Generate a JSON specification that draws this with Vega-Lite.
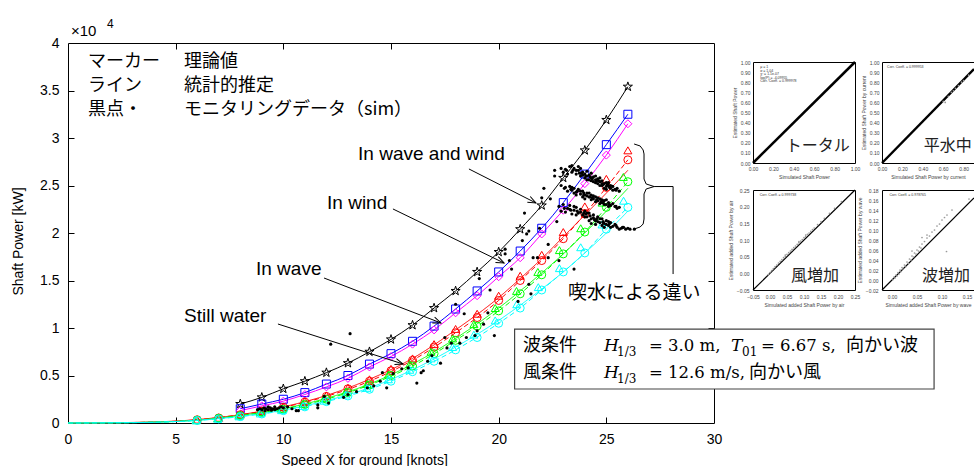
{
"$schema":"https://vega.github.io/schema/vega-lite/v6.json",
"background":"white",
"padding":{"left":10,"top":17,"right":0,"bottom":0},
"bounds":"flush",
"spacing":39,
"config":{
 "view":{"stroke":"#000","strokeWidth":1},
 "font":"Liberation Sans",
 "axis":{"labelFont":"Liberation Sans","titleFont":"Liberation Sans","labelColor":"#000","titleColor":"#000","tickColor":"#000","tickWidth":1,"labelFlush":false,"grid":false,"domain":false}
},
"datasets":{
 "mk":[
  {"s":"s1","x":8,"y":0.20},{"s":"s1","x":9,"y":0.27},{"s":"s1","x":10,"y":0.36},{"s":"s1","x":11,"y":0.44},{"s":"s1","x":12,"y":0.53},{"s":"s1","x":13,"y":0.63},{"s":"s1","x":14,"y":0.75},{"s":"s1","x":15,"y":0.88},{"s":"s1","x":16,"y":1.03},{"s":"s1","x":17,"y":1.21},{"s":"s1","x":18,"y":1.39},{"s":"s1","x":19,"y":1.59},{"s":"s1","x":20,"y":1.80},{"s":"s1","x":21,"y":2.04},{"s":"s1","x":22,"y":2.29},{"s":"s1","x":23,"y":2.58},{"s":"s1","x":24,"y":2.87},{"s":"s1","x":25,"y":3.19},{"s":"s1","x":26,"y":3.54},
  {"s":"s2","x":8,"y":0.15},{"s":"s2","x":9,"y":0.20},{"s":"s2","x":10,"y":0.25},{"s":"s2","x":11,"y":0.32},{"s":"s2","x":12,"y":0.41},{"s":"s2","x":13,"y":0.50},{"s":"s2","x":14,"y":0.62},{"s":"s2","x":15,"y":0.73},{"s":"s2","x":16,"y":0.86},{"s":"s2","x":17,"y":1.02},{"s":"s2","x":18,"y":1.20},{"s":"s2","x":19,"y":1.39},{"s":"s2","x":20,"y":1.59},{"s":"s2","x":21,"y":1.81},{"s":"s2","x":22,"y":2.05},{"s":"s2","x":23,"y":2.32},{"s":"s2","x":24,"y":2.62},{"s":"s2","x":25,"y":2.93},{"s":"s2","x":26,"y":3.25},
  {"s":"s3","x":8,"y":0.13},{"s":"s3","x":9,"y":0.18},{"s":"s3","x":10,"y":0.23},{"s":"s3","x":11,"y":0.30},{"s":"s3","x":12,"y":0.38},{"s":"s3","x":13,"y":0.47},{"s":"s3","x":14,"y":0.59},{"s":"s3","x":15,"y":0.70},{"s":"s3","x":16,"y":0.83},{"s":"s3","x":17,"y":0.98},{"s":"s3","x":18,"y":1.16},{"s":"s3","x":19,"y":1.34},{"s":"s3","x":20,"y":1.54},{"s":"s3","x":21,"y":1.74},{"s":"s3","x":22,"y":1.99},{"s":"s3","x":23,"y":2.24},{"s":"s3","x":24,"y":2.52},{"s":"s3","x":25,"y":2.82},{"s":"s3","x":26,"y":3.15},
  {"s":"s4","x":6,"y":0.035},{"s":"s4","x":7,"y":0.055},{"s":"s4","x":8,"y":0.09},{"s":"s4","x":9,"y":0.13},{"s":"s4","x":10,"y":0.17},{"s":"s4","x":11,"y":0.23},{"s":"s4","x":12,"y":0.29},{"s":"s4","x":13,"y":0.37},{"s":"s4","x":14,"y":0.46},{"s":"s4","x":15,"y":0.57},{"s":"s4","x":16,"y":0.68},{"s":"s4","x":17,"y":0.83},{"s":"s4","x":18,"y":0.99},{"s":"s4","x":19,"y":1.15},{"s":"s4","x":20,"y":1.34},{"s":"s4","x":21,"y":1.55},{"s":"s4","x":22,"y":1.77},{"s":"s4","x":23,"y":2.01},{"s":"s4","x":24,"y":2.28},{"s":"s4","x":25,"y":2.57},{"s":"s4","x":26,"y":2.87},
  {"s":"s5","x":6,"y":0.034},{"s":"s5","x":7,"y":0.053},{"s":"s5","x":8,"y":0.087},{"s":"s5","x":9,"y":0.125},{"s":"s5","x":10,"y":0.165},{"s":"s5","x":11,"y":0.22},{"s":"s5","x":12,"y":0.28},{"s":"s5","x":13,"y":0.36},{"s":"s5","x":14,"y":0.44},{"s":"s5","x":15,"y":0.55},{"s":"s5","x":16,"y":0.66},{"s":"s5","x":17,"y":0.80},{"s":"s5","x":18,"y":0.95},{"s":"s5","x":19,"y":1.11},{"s":"s5","x":20,"y":1.29},{"s":"s5","x":21,"y":1.50},{"s":"s5","x":22,"y":1.71},{"s":"s5","x":23,"y":1.94},{"s":"s5","x":24,"y":2.20},{"s":"s5","x":25,"y":2.48},{"s":"s5","x":26,"y":2.77},
  {"s":"s6","x":5.95,"y":0.03},{"s":"s6","x":6.95,"y":0.05},{"s":"s6","x":7.94,"y":0.08},{"s":"s6","x":8.93,"y":0.115},{"s":"s6","x":9.92,"y":0.15},{"s":"s6","x":10.91,"y":0.20},{"s":"s6","x":11.9,"y":0.26},{"s":"s6","x":12.9,"y":0.33},{"s":"s6","x":13.89,"y":0.41},{"s":"s6","x":14.88,"y":0.51},{"s":"s6","x":15.87,"y":0.62},{"s":"s6","x":16.86,"y":0.75},{"s":"s6","x":17.86,"y":0.89},{"s":"s6","x":18.85,"y":1.04},{"s":"s6","x":19.84,"y":1.21},{"s":"s6","x":20.83,"y":1.39},{"s":"s6","x":21.82,"y":1.59},{"s":"s6","x":22.82,"y":1.82},{"s":"s6","x":23.81,"y":2.05},{"s":"s6","x":24.8,"y":2.32},{"s":"s6","x":25.79,"y":2.59},
  {"s":"s7","x":6,"y":0.03},{"s":"s7","x":7,"y":0.05},{"s":"s7","x":8,"y":0.078},{"s":"s7","x":9,"y":0.11},{"s":"s7","x":10,"y":0.145},{"s":"s7","x":11,"y":0.195},{"s":"s7","x":12,"y":0.25},{"s":"s7","x":13,"y":0.32},{"s":"s7","x":14,"y":0.40},{"s":"s7","x":15,"y":0.50},{"s":"s7","x":16,"y":0.60},{"s":"s7","x":17,"y":0.73},{"s":"s7","x":18,"y":0.87},{"s":"s7","x":19,"y":1.02},{"s":"s7","x":20,"y":1.18},{"s":"s7","x":21,"y":1.36},{"s":"s7","x":22,"y":1.56},{"s":"s7","x":23,"y":1.78},{"s":"s7","x":24,"y":2.01},{"s":"s7","x":25,"y":2.27},{"s":"s7","x":26,"y":2.54},
  {"s":"s8","x":5.95,"y":0.028},{"s":"s8","x":6.95,"y":0.045},{"s":"s8","x":7.94,"y":0.07},{"s":"s8","x":8.93,"y":0.10},{"s":"s8","x":9.92,"y":0.135},{"s":"s8","x":10.91,"y":0.18},{"s":"s8","x":11.9,"y":0.235},{"s":"s8","x":12.9,"y":0.30},{"s":"s8","x":13.89,"y":0.37},{"s":"s8","x":14.88,"y":0.46},{"s":"s8","x":15.87,"y":0.56},{"s":"s8","x":16.86,"y":0.68},{"s":"s8","x":17.86,"y":0.80},{"s":"s8","x":18.85,"y":0.93},{"s":"s8","x":19.84,"y":1.08},{"s":"s8","x":20.84,"y":1.25},{"s":"s8","x":21.84,"y":1.43},{"s":"s8","x":22.82,"y":1.63},{"s":"s8","x":23.81,"y":1.85},{"s":"s8","x":24.8,"y":2.09},{"s":"s8","x":25.8,"y":2.34},
  {"s":"s9","x":6,"y":0.027},{"s":"s9","x":7,"y":0.043},{"s":"s9","x":8,"y":0.067},{"s":"s9","x":9,"y":0.095},{"s":"s9","x":10,"y":0.13},{"s":"s9","x":11,"y":0.17},{"s":"s9","x":12,"y":0.225},{"s":"s9","x":13,"y":0.285},{"s":"s9","x":14,"y":0.355},{"s":"s9","x":15,"y":0.44},{"s":"s9","x":16,"y":0.54},{"s":"s9","x":17,"y":0.65},{"s":"s9","x":18,"y":0.77},{"s":"s9","x":19,"y":0.90},{"s":"s9","x":20,"y":1.05},{"s":"s9","x":21,"y":1.21},{"s":"s9","x":22,"y":1.40},{"s":"s9","x":23,"y":1.59},{"s":"s9","x":24,"y":1.79},{"s":"s9","x":25,"y":2.04},{"s":"s9","x":26,"y":2.27}
 ],
 "ln":[
  {"s":"s4","x":0,"y":0},{"s":"s4","x":3,"y":0.006},{"s":"s4","x":6,"y":0.036},{"s":"s4","x":8,"y":0.088},{"s":"s4","x":10,"y":0.17},{"s":"s4","x":12,"y":0.29},{"s":"s4","x":14,"y":0.46},{"s":"s4","x":16,"y":0.68},{"s":"s4","x":18,"y":0.98},{"s":"s4","x":20,"y":1.32},{"s":"s4","x":21,"y":1.52},{"s":"s4","x":22,"y":1.73},{"s":"s4","x":23,"y":1.96},{"s":"s4","x":24,"y":2.19},{"s":"s4","x":25,"y":2.42},{"s":"s4","x":26,"y":2.66},
  {"s":"s5","x":0,"y":0},{"s":"s5","x":3,"y":0.005},{"s":"s5","x":6,"y":0.034},{"s":"s5","x":8,"y":0.087},{"s":"s5","x":10,"y":0.165},{"s":"s5","x":12,"y":0.28},{"s":"s5","x":14,"y":0.44},{"s":"s5","x":16,"y":0.66},{"s":"s5","x":18,"y":0.95},{"s":"s5","x":20,"y":1.29},{"s":"s5","x":21,"y":1.50},{"s":"s5","x":22,"y":1.71},{"s":"s5","x":23,"y":1.94},{"s":"s5","x":24,"y":2.20},{"s":"s5","x":25,"y":2.48},{"s":"s5","x":26,"y":2.77},
  {"s":"s6","x":0,"y":0},{"s":"s6","x":3,"y":0.005},{"s":"s6","x":6,"y":0.03},{"s":"s6","x":8,"y":0.08},{"s":"s6","x":10,"y":0.15},{"s":"s6","x":12,"y":0.26},{"s":"s6","x":14,"y":0.41},{"s":"s6","x":16,"y":0.62},{"s":"s6","x":18,"y":0.89},{"s":"s6","x":20,"y":1.21},{"s":"s6","x":21,"y":1.39},{"s":"s6","x":22,"y":1.58},{"s":"s6","x":23,"y":1.78},{"s":"s6","x":24,"y":2.00},{"s":"s6","x":25,"y":2.23},{"s":"s6","x":26,"y":2.47},
  {"s":"s7","x":0,"y":0},{"s":"s7","x":3,"y":0.004},{"s":"s7","x":6,"y":0.03},{"s":"s7","x":8,"y":0.078},{"s":"s7","x":10,"y":0.145},{"s":"s7","x":12,"y":0.25},{"s":"s7","x":14,"y":0.40},{"s":"s7","x":16,"y":0.60},{"s":"s7","x":18,"y":0.87},{"s":"s7","x":20,"y":1.18},{"s":"s7","x":21,"y":1.36},{"s":"s7","x":22,"y":1.56},{"s":"s7","x":23,"y":1.78},{"s":"s7","x":24,"y":2.01},{"s":"s7","x":25,"y":2.27},{"s":"s7","x":26,"y":2.54},
  {"s":"s8","x":0,"y":0},{"s":"s8","x":3,"y":0.004},{"s":"s8","x":6,"y":0.028},{"s":"s8","x":8,"y":0.07},{"s":"s8","x":10,"y":0.135},{"s":"s8","x":12,"y":0.235},{"s":"s8","x":14,"y":0.37},{"s":"s8","x":16,"y":0.56},{"s":"s8","x":18,"y":0.80},{"s":"s8","x":20,"y":1.08},{"s":"s8","x":21,"y":1.24},{"s":"s8","x":22,"y":1.41},{"s":"s8","x":23,"y":1.59},{"s":"s8","x":24,"y":1.79},{"s":"s8","x":25,"y":2.00},{"s":"s8","x":26,"y":2.23},
  {"s":"s9","x":0,"y":0},{"s":"s9","x":3,"y":0.004},{"s":"s9","x":6,"y":0.027},{"s":"s9","x":8,"y":0.067},{"s":"s9","x":10,"y":0.13},{"s":"s9","x":12,"y":0.225},{"s":"s9","x":14,"y":0.355},{"s":"s9","x":16,"y":0.54},{"s":"s9","x":18,"y":0.77},{"s":"s9","x":20,"y":1.05},{"s":"s9","x":21,"y":1.21},{"s":"s9","x":22,"y":1.40},{"s":"s9","x":23,"y":1.59},{"s":"s9","x":24,"y":1.79},{"s":"s9","x":25,"y":2.04},{"s":"s9","x":26,"y":2.27}
 ],
 "dots":[
  {"x":22.6,"y":2.66},{"x":22.9,"y":2.68},{"x":23.1,"y":2.67},{"x":23.2,"y":2.62},{"x":23.3,"y":2.70},{"x":23.4,"y":2.64},{"x":23.5,"y":2.68},{"x":23.6,"y":2.62},{"x":23.7,"y":2.66},{"x":23.7,"y":2.70},{"x":23.8,"y":2.60},{"x":23.9,"y":2.64},{"x":24.0,"y":2.58},{"x":24.0,"y":2.62},{"x":24.1,"y":2.60},{"x":24.2,"y":2.56},{"x":24.2,"y":2.61},{"x":24.3,"y":2.58},{"x":24.3,"y":2.63},{"x":24.4,"y":2.54},{"x":24.4,"y":2.59},{"x":24.5,"y":2.56},{"x":24.6,"y":2.52},{"x":24.6,"y":2.57},{"x":24.7,"y":2.54},{"x":24.8,"y":2.50},{"x":24.8,"y":2.55},{"x":24.9,"y":2.52},{"x":24.9,"y":2.47},{"x":25.0,"y":2.49},{"x":25.0,"y":2.53},{"x":25.1,"y":2.50},{"x":25.2,"y":2.47},{"x":25.3,"y":2.49},{"x":25.4,"y":2.46},{"x":25.6,"y":2.44},
  {"x":23.0,"y":2.64},{"x":23.4,"y":2.71},{"x":23.6,"y":2.66},{"x":23.8,"y":2.68},{"x":23.9,"y":2.61},{"x":24.1,"y":2.65},{"x":24.1,"y":2.56},{"x":24.3,"y":2.55},{"x":24.5,"y":2.60},{"x":24.5,"y":2.53},{"x":24.7,"y":2.58},{"x":24.7,"y":2.50},{"x":24.8,"y":2.52},{"x":25.0,"y":2.46},{"x":25.1,"y":2.53},{"x":25.2,"y":2.50},{"x":25.3,"y":2.45},{"x":25.5,"y":2.47},{"x":23.85,"y":2.63},{"x":24.25,"y":2.59},{"x":24.65,"y":2.55},{"x":25.05,"y":2.51},
  {"x":23.15,"y":2.66},{"x":23.45,"y":2.66},{"x":23.75,"y":2.63},{"x":24.05,"y":2.60},{"x":24.35,"y":2.57},{"x":24.55,"y":2.55},{"x":24.85,"y":2.51},{"x":25.15,"y":2.48},{"x":25.45,"y":2.45},
  {"x":22.9,"y":2.50},{"x":23.1,"y":2.48},{"x":23.3,"y":2.49},{"x":23.4,"y":2.45},{"x":23.5,"y":2.47},{"x":23.5,"y":2.42},{"x":23.6,"y":2.43},{"x":23.7,"y":2.46},{"x":23.8,"y":2.41},{"x":23.9,"y":2.44},{"x":24.0,"y":2.40},{"x":24.0,"y":2.36},{"x":24.1,"y":2.42},{"x":24.2,"y":2.38},{"x":24.3,"y":2.40},{"x":24.4,"y":2.36},{"x":24.5,"y":2.38},{"x":24.5,"y":2.33},{"x":24.6,"y":2.34},{"x":24.7,"y":2.36},{"x":24.8,"y":2.32},{"x":24.9,"y":2.34},{"x":25.0,"y":2.30},{"x":25.0,"y":2.35},{"x":25.1,"y":2.32},{"x":25.2,"y":2.29},{"x":25.4,"y":2.28},{"x":25.6,"y":2.27},
  {"x":23.2,"y":2.44},{"x":23.4,"y":2.48},{"x":23.6,"y":2.40},{"x":23.8,"y":2.44},{"x":23.9,"y":2.38},{"x":24.1,"y":2.39},{"x":24.2,"y":2.42},{"x":24.3,"y":2.35},{"x":24.4,"y":2.39},{"x":24.6,"y":2.37},{"x":24.7,"y":2.31},{"x":24.8,"y":2.35},{"x":24.9,"y":2.30},{"x":25.1,"y":2.28},{"x":25.3,"y":2.31},{"x":25.5,"y":2.26},{"x":23.95,"y":2.42},{"x":24.35,"y":2.37},{"x":24.75,"y":2.33},
  {"x":23.05,"y":2.47},{"x":23.35,"y":2.46},{"x":23.65,"y":2.44},{"x":23.95,"y":2.40},{"x":24.25,"y":2.38},{"x":24.55,"y":2.35},{"x":24.85,"y":2.32},{"x":25.15,"y":2.30},{"x":25.45,"y":2.28},
  {"x":22.8,"y":2.28},{"x":23.0,"y":2.30},{"x":23.2,"y":2.26},{"x":23.3,"y":2.29},{"x":23.4,"y":2.20},{"x":23.5,"y":2.24},{"x":23.6,"y":2.27},{"x":23.7,"y":2.21},{"x":23.8,"y":2.25},{"x":23.9,"y":2.19},{"x":24.0,"y":2.23},{"x":24.1,"y":2.17},{"x":24.2,"y":2.21},{"x":24.3,"y":2.15},{"x":24.3,"y":2.10},{"x":24.4,"y":2.19},{"x":24.5,"y":2.13},{"x":24.6,"y":2.17},{"x":24.7,"y":2.11},{"x":24.8,"y":2.15},{"x":24.9,"y":2.10},{"x":24.9,"y":2.06},{"x":25.0,"y":2.13},{"x":25.1,"y":2.08},{"x":25.2,"y":2.11},{"x":25.3,"y":2.07},{"x":25.5,"y":2.06},{"x":25.7,"y":2.05},{"x":25.9,"y":2.04},{"x":26.1,"y":2.04},{"x":26.3,"y":2.04},
  {"x":23.1,"y":2.22},{"x":23.3,"y":2.25},{"x":23.5,"y":2.28},{"x":23.6,"y":2.19},{"x":23.8,"y":2.22},{"x":24.0,"y":2.17},{"x":24.1,"y":2.21},{"x":24.2,"y":2.13},{"x":24.4,"y":2.16},{"x":24.5,"y":2.09},{"x":24.6,"y":2.12},{"x":24.7,"y":2.15},{"x":24.8,"y":2.08},{"x":25.0,"y":2.09},{"x":25.1,"y":2.12},{"x":25.2,"y":2.06},{"x":25.4,"y":2.09},{"x":25.6,"y":2.04},{"x":25.8,"y":2.06},{"x":24.05,"y":2.20},{"x":24.45,"y":2.14},{"x":24.85,"y":2.11},
  {"x":23.05,"y":2.26},{"x":23.35,"y":2.24},{"x":23.65,"y":2.23},{"x":23.95,"y":2.21},{"x":24.25,"y":2.18},{"x":24.55,"y":2.15},{"x":24.85,"y":2.12},{"x":25.15,"y":2.10},{"x":25.45,"y":2.08},{"x":25.75,"y":2.06},{"x":26.0,"y":2.05},
  {"x":22.6,"y":2.60},{"x":22.1,"y":2.47},{"x":21.2,"y":2.21},{"x":21.4,"y":2.02},{"x":21.3,"y":1.99},{"x":21.1,"y":1.92},{"x":21.6,"y":1.74},{"x":20.3,"y":1.83},{"x":20.5,"y":1.71},{"x":22.3,"y":1.74},{"x":22.8,"y":1.71},{"x":23.5,"y":1.62},{"x":21.5,"y":1.36},{"x":21.8,"y":1.74},{"x":22.3,"y":1.88},{"x":22.0,"y":2.37},{"x":22.4,"y":2.36},{"x":22.9,"y":2.23},{"x":22.7,"y":2.12},{"x":21.4,"y":1.46},{"x":20.9,"y":1.28},{"x":18.0,"y":1.25},{"x":19.1,"y":1.52},{"x":20.3,"y":1.78},{"x":18.4,"y":1.15},{"x":19.3,"y":1.04},{"x":19.5,"y":1.16},{"x":19.0,"y":0.97},{"x":18.5,"y":0.90},{"x":18.2,"y":0.84},{"x":16.9,"y":0.71},{"x":17.3,"y":0.63},{"x":16.5,"y":0.55},{"x":14.6,"y":0.53},{"x":15.1,"y":0.52},{"x":15.8,"y":0.58},{"x":14.2,"y":0.39},{"x":13.9,"y":0.37},{"x":16.2,"y":0.42},{"x":17.6,"y":0.79},{"x":17.8,"y":0.84},{"x":18.9,"y":0.92},{"x":13.1,"y":0.94},{"x":12.2,"y":0.83},{"x":19.8,"y":0.92},{"x":17.5,"y":0.90},{"x":16.7,"y":0.65},{"x":16.4,"y":0.53},{"x":14.8,"y":0.37},{"x":14.5,"y":0.44},{"x":15.5,"y":0.57},{"x":10.7,"y":0.13},{"x":11.6,"y":0.16},{"x":11.6,"y":0.19},{"x":12.1,"y":0.21},{"x":11.9,"y":0.28},{"x":10.6,"y":0.13},{"x":12.8,"y":0.27},{"x":13.4,"y":0.33},{"x":13.0,"y":0.30},{"x":20.6,"y":1.62},{"x":19.6,"y":1.40},{"x":21.9,"y":2.05},
  {"x":8.8,"y":0.14},{"x":8.9,"y":0.15},{"x":9.0,"y":0.14},{"x":9.1,"y":0.16},{"x":9.2,"y":0.15},{"x":9.3,"y":0.14},{"x":9.3,"y":0.17},{"x":9.4,"y":0.16},{"x":9.5,"y":0.15},{"x":9.6,"y":0.17},{"x":9.6,"y":0.14},{"x":9.7,"y":0.15},{"x":9.8,"y":0.16},{"x":9.9,"y":0.17},{"x":10.0,"y":0.16},{"x":10.2,"y":0.17},{"x":10.4,"y":0.15},{"x":9.45,"y":0.135},{"x":9.15,"y":0.13}
 ],
 "arrows":[
  {"x":18.62,"y":2.674,"x2":21.73,"y2":2.316},
  {"x":15.09,"y":2.253,"x2":20.25,"y2":1.684},
  {"x":11.89,"y":1.526,"x2":17.32,"y2":1.053},
  {"x":9.75,"y":1.042,"x2":15.56,"y2":0.621}
 ]
},
"hconcat":[
 {
  "width":646,"height":380,
  "encoding":{
   "x":{"field":"x","type":"quantitative","scale":{"domain":[0,30],"nice":false,"zero":false},"axis":null},
   "y":{"field":"y","type":"quantitative","scale":{"domain":[0,4],"nice":false,"zero":false},"axis":null}
  },
  "resolve":{"axis":{"x":"independent","y":"independent"}},
  "layer":[
   {"data":{"name":"mk"},"transform":[{"filter":{"field":"s","oneOf":["s1","s2","s3"]}}],
    "mark":{"type":"line","strokeWidth":1,"interpolate":"monotone"},
    "encoding":{
     "x":{"field":"x","type":"quantitative","scale":{"domain":[0,30],"nice":false,"zero":false},"axis":{"orient":"top","values":[5,10,15,20,25],"labels":false,"ticks":true,"tickSize":-6,"title":null}},
     "y":{"field":"y","type":"quantitative","scale":{"domain":[0,4],"nice":false,"zero":false},"axis":{"orient":"right","values":[0.5,1,1.5,2,2.5,3,3.5],"labels":false,"ticks":true,"tickSize":-6,"title":null}},
     "color":{"field":"s","type":"nominal","scale":{"domain":["s1","s2","s3","s4","s5","s6","s7","s8","s9"],"range":["#000000","#0000ff","#ff00ff","#ff0000","#ff0000","#00ff00","#00ff00","#00ffff","#00ffff"]},"legend":null}
    }},
   {"data":{"name":"ln"},
    "mark":{"type":"line","strokeWidth":1,"interpolate":"monotone"},
    "encoding":{
     "color":{"field":"s","type":"nominal","scale":{"domain":["s1","s2","s3","s4","s5","s6","s7","s8","s9"],"range":["#000000","#0000ff","#ff00ff","#ff0000","#ff0000","#00ff00","#00ff00","#00ffff","#00ffff"]},"legend":null},
     "strokeDash":{"field":"s","type":"nominal","scale":{"domain":["s1","s2","s3","s4","s5","s6","s7","s8","s9"],"range":[[1,0],[1,0],[1,0],[1,0],[5,3],[1,0],[5,3],[1,0],[5,3]]},"legend":null}
    }},
   {"data":{"name":"mk"},
    "mark":{"type":"point","filled":false,"size":64,"strokeWidth":1,"opacity":1},
    "encoding":{
     "x":{"field":"x","type":"quantitative","scale":{"domain":[0,30],"nice":false,"zero":false},"axis":{"orient":"bottom","values":[5,10,15,20,25],"labels":false,"ticks":true,"tickSize":-6,"title":null}},
     "y":{"field":"y","type":"quantitative","scale":{"domain":[0,4],"nice":false,"zero":false},"axis":{"orient":"left","values":[0.5,1,1.5,2,2.5,3,3.5],"labels":false,"ticks":true,"tickSize":-6,"title":null}},
     "color":{"field":"s","type":"nominal","scale":{"domain":["s1","s2","s3","s4","s5","s6","s7","s8","s9"],"range":["#000000","#0000ff","#ff00ff","#ff0000","#ff0000","#00ff00","#00ff00","#00ffff","#00ffff"]},"legend":null},
     "shape":{"field":"s","type":"nominal","scale":{"domain":["s1","s2","s3","s4","s5","s6","s7","s8","s9"],"range":["M0,-1.2L0.2694,-0.3708L1.141,-0.371L0.436,0.1416L0.705,0.971L0,0.458L-0.705,0.971L-0.436,0.1416L-1.141,-0.371L-0.2694,-0.3708Z","square","diamond","triangle-up","circle","triangle-up","circle","triangle-up","circle"]},"legend":null}
    }},
   {"data":{"name":"dots"},
    "mark":{"type":"point","filled":true,"size":10,"color":"#000","opacity":1,"strokeWidth":0},
    "encoding":{
     "x":{"field":"x","type":"quantitative","scale":{"domain":[0,30],"nice":false,"zero":false},"axis":{"orient":"bottom","values":[0,5,10,15,20,25,30],"format":"~g","ticks":false,"labelPadding":9,"labelFontSize":14,"title":"Speed X for ground  [knots]","titleFontSize":14,"titleFontWeight":"normal","titleX":296,"titleY":37,"titleBaseline":"middle"}},
     "y":{"field":"y","type":"quantitative","scale":{"domain":[0,4],"nice":false,"zero":false},"axis":{"orient":"left","values":[0,0.5,1,1.5,2,2.5,3,3.5,4],"format":"~g","ticks":false,"labelPadding":9,"labelFontSize":14,"title":"Shaft Power  [kW]","titleFontSize":14,"titleFontWeight":"normal","titleX":-50,"titleY":198,"titleAngle":270,"titleBaseline":"middle"}}
    }},
   {"data":{"name":"arrows"},
    "mark":{"type":"rule","color":"#000","strokeWidth":1},
    "encoding":{"x2":{"field":"x2"},"y2":{"field":"y2"}}},
   {"data":{"name":"arrows"},
    "transform":[{"calculate":"atan2((datum.y-datum.y2)*95,(datum.x2-datum.x)*21.533)*180/PI","as":"ang"}],
    "mark":{"type":"point","shape":"M-1,-0.4L0,0L-1,0.4","filled":false,"size":256,"color":"#000","strokeWidth":1,"opacity":1},
    "encoding":{
     "x":{"field":"x2","type":"quantitative","scale":{"domain":[0,30],"nice":false,"zero":false},"axis":null},
     "y":{"field":"y2","type":"quantitative","scale":{"domain":[0,4],"nice":false,"zero":false},"axis":null},
     "angle":{"field":"ang","type":"quantitative","scale":null}
    }},
   {"data":{"values":[
     {"g":"b","o":1,"x":26.29,"y":2.937},{"g":"b","o":2,"x":26.57,"y":2.916},{"g":"b","o":3,"x":26.71,"y":2.874},{"g":"b","o":4,"x":26.75,"y":2.832},{"g":"b","o":5,"x":26.75,"y":2.568},{"g":"b","o":6,"x":26.85,"y":2.516},{"g":"b","o":7,"x":27.22,"y":2.489},{"g":"b","o":8,"x":26.85,"y":2.463},{"g":"b","o":9,"x":26.75,"y":2.411},{"g":"b","o":10,"x":26.75,"y":2.147},{"g":"b","o":11,"x":26.71,"y":2.095},{"g":"b","o":12,"x":26.57,"y":2.063},{"g":"b","o":13,"x":26.29,"y":2.042},
     {"g":"l","o":1,"x":27.22,"y":2.489},{"g":"l","o":2,"x":28.10,"y":2.489},{"g":"l","o":3,"x":28.10,"y":1.568}
    ]},
    "mark":{"type":"line","color":"#000","strokeWidth":1},
    "encoding":{"detail":{"field":"g","type":"nominal"},"order":{"field":"o","type":"quantitative"}}},
   {"data":{"values":[
     {"t":"マーカー","x":0.93,"y":3.8},{"t":"理論値","x":5.39,"y":3.8},
     {"t":"ライン","x":0.93,"y":3.547},{"t":"統計的推定","x":5.39,"y":3.547},
     {"t":"黒点・","x":0.93,"y":3.295},{"t":"モニタリングデータ（sim）","x":5.39,"y":3.295}
    ]},
    "mark":{"type":"text","align":"left","baseline":"middle","font":"Noto Sans CJK JP","fontSize":18,"color":"#000"},
    "encoding":{"text":{"field":"t"}}},
   {"data":{"values":[{"t":"喫水による違い","x":23.22,"y":1.368}]},
    "mark":{"type":"text","align":"left","baseline":"middle","font":"Noto Sans CJK JP","fontSize":19,"color":"#000"},
    "encoding":{"text":{"field":"t"}}},
   {"data":{"values":[
     {"t":"In wave and wind","x":13.47,"y":2.83},{"t":"In wind","x":12.03,"y":2.32},
     {"t":"In wave","x":8.73,"y":1.621},{"t":"Still water","x":5.39,"y":1.126}
    ]},
    "mark":{"type":"text","align":"left","baseline":"middle","font":"Liberation Sans","fontSize":19,"color":"#000"},
    "encoding":{"text":{"field":"t"}}},
   {"data":{"values":[{"x":20.74,"x2":40.22,"y":0.358,"y2":0.989}]},
    "mark":{"type":"rect","fill":"#ffffff","stroke":"#444444","strokeWidth":1.2},
    "encoding":{"x2":{"field":"x2"},"y2":{"field":"y2"}}},
   {"data":{"values":[
     {"t":"波条件","x":21.13,"y":0.811},{"t":"向かい波","x":36.13,"y":0.811},
     {"t":"風条件","x":21.13,"y":0.526},{"t":"向かい風","x":31.63,"y":0.526}
    ]},
    "mark":{"type":"text","align":"left","baseline":"middle","font":"Noto Sans CJK JP","fontSize":18,"color":"#000"},
    "encoding":{"text":{"field":"t"}}},
   {"data":{"values":[
     {"t":"H","x":24.89,"y":0.811},{"t":"T","x":30.79,"y":0.811},{"t":"H","x":24.89,"y":0.526}
    ]},
    "mark":{"type":"text","align":"left","baseline":"middle","font":"DejaVu Serif","fontStyle":"italic","fontSize":17,"color":"#000"},
    "encoding":{"text":{"field":"t"}}},
   {"data":{"values":[
     {"t":"= 3.0 m,","x":26.98,"y":0.811},{"t":"= 6.67 s,","x":32.18,"y":0.811},{"t":"= 12.6 m/s,","x":26.98,"y":0.526}
    ]},
    "mark":{"type":"text","align":"left","baseline":"middle","font":"DejaVu Serif","fontSize":16.5,"color":"#000"},
    "encoding":{"text":{"field":"t"}}},
   {"data":{"values":[
     {"t":"1/3","x":25.5,"y":0.747},{"t":"01","x":31.3,"y":0.747},{"t":"1/3","x":25.5,"y":0.463}
    ]},
    "mark":{"type":"text","align":"left","baseline":"middle","font":"DejaVu Serif","fontSize":12,"color":"#000"},
    "encoding":{"text":{"field":"t"}}},
   {"data":{"values":[{"t":"×10","x":0.139,"y":4.126}]},
    "mark":{"type":"text","align":"left","baseline":"middle","font":"Liberation Sans","fontSize":15,"color":"#000"},
    "encoding":{"text":{"field":"t"}}},
   {"data":{"values":[{"t":"4","x":1.81,"y":4.2}]},
    "mark":{"type":"text","align":"left","baseline":"middle","font":"Liberation Sans","fontSize":12,"color":"#000"},
    "encoding":{"text":{"field":"t"}}}
  ]
 },
 {
  "bounds":"flush","spacing":0,
  "vconcat":[
   {"width":1,"height":19,"data":{"values":[{"a":1}]},"mark":{"type":"point","opacity":0},"view":{"stroke":null}},
   {
    "bounds":"flush","spacing":27,
    "vconcat":[
     {
      "width":102,"height":101,
      "resolve":{"axis":{"x":"independent","y":"independent"}},
      "encoding":{
       "x":{"field":"x","type":"quantitative","scale":{"domain":[0,1],"nice":false,"zero":false},"axis":null},
       "y":{"field":"y","type":"quantitative","scale":{"domain":[0,1],"nice":false,"zero":false},"axis":null}
      },
      "layer":[
       {"data":{"values":[{"x":0,"y":0},{"x":1,"y":1}]},
        "mark":{"type":"line","color":"#000","strokeWidth":2.5},
        "encoding":{
         "x":{"field":"x","type":"quantitative","scale":{"domain":[0,1],"nice":false,"zero":false},"axis":{"orient":"bottom","values":[0,0.2,0.4,0.6,0.8,1],"format":".2f","ticks":false,"labels":true,"labelFontSize":5,"labelPadding":3,"labelColor":"#444","title":"Simulated Shaft Power","titleFontSize":5,"titleFontWeight":"normal","titlePadding":3,"titleColor":"#444"}},
         "y":{"field":"y","type":"quantitative","scale":{"domain":[0,1],"nice":false,"zero":false},"axis":{"orient":"left","values":[0,0.1,0.2,0.3,0.4,0.5,0.6,0.7,0.8,0.9,1],"format":".2f","ticks":false,"labels":true,"labelFontSize":5,"labelPadding":3,"labelColor":"#444","title":"Estimated Shaft Power","titleFontSize":5,"titleFontWeight":"normal","titlePadding":3,"titleColor":"#444"}}
        }},
       {"data":{"values":[
         {"t":"μ = 1","x":0.07,"y":0.95},{"t":"σ = 1.04","x":0.07,"y":0.915},{"t":"χ² = 1.1e-07","x":0.07,"y":0.88},{"t":"log(P) = -4.09955","x":0.07,"y":0.845},{"t":"Corr. Coeff. = 0.999978","x":0.07,"y":0.81}
        ]},
        "mark":{"type":"text","align":"left","baseline":"middle","fontSize":3.5,"color":"#333"},
        "encoding":{"text":{"field":"t"}}},
       {"data":{"values":[{"t":"トータル","x":0.32,"y":0.17}]},
        "mark":{"type":"text","align":"left","baseline":"middle","font":"Noto Sans CJK JP","fontSize":16,"color":"#222"},
        "encoding":{"text":{"field":"t"}}}
      ]
     },
     {
      "width":102,"height":100,
      "resolve":{"axis":{"x":"independent","y":"independent"}},
      "encoding":{
       "x":{"field":"x","type":"quantitative","scale":{"domain":[-0.05,0.25],"nice":false,"zero":false},"axis":null},
       "y":{"field":"y","type":"quantitative","scale":{"domain":[-0.05,0.25],"nice":false,"zero":false},"axis":null}
      },
      "layer":[
       {"data":{"values":[{"x":-0.05,"y":-0.05},{"x":0.25,"y":0.25}]},
        "mark":{"type":"line","color":"#000","strokeWidth":1.2},
        "encoding":{
         "x":{"field":"x","type":"quantitative","scale":{"domain":[-0.05,0.25],"nice":false,"zero":false},"axis":{"orient":"bottom","values":[-0.05,0,0.05,0.1,0.15,0.2,0.25],"format":".2f","ticks":false,"labels":true,"labelFontSize":5,"labelPadding":4,"labelColor":"#444","title":"Simulated added Shaft Power by air","titleFontSize":5,"titleFontWeight":"normal","titlePadding":3,"titleColor":"#444"}},
         "y":{"field":"y","type":"quantitative","scale":{"domain":[-0.05,0.25],"nice":false,"zero":false},"axis":{"orient":"left","values":[-0.05,0,0.05,0.1,0.15,0.2,0.25],"format":".2f","ticks":false,"labels":true,"labelFontSize":5,"labelPadding":4,"labelColor":"#444","title":"Estimated added Shaft Power by air","titleFontSize":5,"titleFontWeight":"normal","titlePadding":3,"titleColor":"#444"}}
        }},
       {"data":{"values":[
         {"x":-0.005,"y":-0.004},{"x":0.0,"y":0.002},{"x":0.005,"y":0.008},{"x":0.01,"y":0.014},{"x":0.015,"y":0.02},{"x":0.02,"y":0.025},{"x":0.025,"y":0.031},{"x":0.03,"y":0.036},{"x":0.035,"y":0.041},{"x":0.04,"y":0.047},{"x":0.045,"y":0.051},{"x":0.05,"y":0.057},{"x":0.055,"y":0.062},{"x":0.06,"y":0.067},{"x":0.065,"y":0.072},{"x":0.07,"y":0.077},{"x":0.075,"y":0.082},{"x":0.08,"y":0.087},{"x":0.085,"y":0.092},{"x":0.09,"y":0.097},{"x":0.095,"y":0.101},{"x":0.1,"y":0.107},{"x":0.105,"y":0.111},{"x":0.11,"y":0.117},{"x":0.115,"y":0.121},{"x":0.12,"y":0.126},{"x":0.125,"y":0.131},{"x":0.13,"y":0.136},{"x":0.14,"y":0.146},{"x":0.15,"y":0.155},{"x":0.16,"y":0.165},{"x":0.175,"y":0.18},{"x":0.19,"y":0.195},{"x":0.21,"y":0.215},{"x":0.045,"y":0.055},{"x":0.065,"y":0.07},{"x":0.085,"y":0.095},{"x":0.105,"y":0.115}
        ]},
        "mark":{"type":"point","filled":true,"size":3,"color":"#999","opacity":1,"strokeWidth":0}},
       {"data":{"values":[{"t":"Corr. Coeff. = 0.999738","x":-0.03,"y":0.235}]},
        "mark":{"type":"text","align":"left","baseline":"middle","fontSize":3.5,"color":"#333"},
        "encoding":{"text":{"field":"t"}}},
       {"data":{"values":[{"t":"風増加","x":0.0618,"y":-0.008}]},
        "mark":{"type":"text","align":"left","baseline":"middle","font":"Noto Sans CJK JP","fontSize":16,"color":"#222"},
        "encoding":{"text":{"field":"t"}}}
      ]
     }
    ]
   }
  ]
 },
 {"width":51,"height":1,"data":{"values":[{"a":1}]},"mark":{"type":"point","opacity":0},"view":{"stroke":null}},
 {
  "bounds":"flush","spacing":0,
  "vconcat":[
   {"width":1,"height":19,"data":{"values":[{"a":1}]},"mark":{"type":"point","opacity":0},"view":{"stroke":null}},
   {
    "bounds":"flush","spacing":27,
    "vconcat":[
     {
      "width":92,"height":101,
      "resolve":{"axis":{"x":"independent","y":"independent"}},
      "encoding":{
       "x":{"field":"x","type":"quantitative","scale":{"domain":[0,0.902],"nice":false,"zero":false},"axis":null},
       "y":{"field":"y","type":"quantitative","scale":{"domain":[0,1],"nice":false,"zero":false},"axis":null}
      },
      "layer":[
       {"data":{"values":[{"x":0,"y":0},{"x":0.902,"y":0.93}]},
        "mark":{"type":"line","color":"#000","strokeWidth":2.5},
        "encoding":{
         "x":{"field":"x","type":"quantitative","scale":{"domain":[0,0.902],"nice":false,"zero":false},"axis":{"orient":"bottom","values":[0,0.2,0.4,0.6,0.8],"format":".2f","ticks":false,"labels":true,"labelFontSize":5,"labelPadding":3,"labelColor":"#444","title":"Simulated Shaft Power by current","titleFontSize":5,"titleFontWeight":"normal","titlePadding":3,"titleColor":"#444"}},
         "y":{"field":"y","type":"quantitative","scale":{"domain":[0,1],"nice":false,"zero":false},"axis":{"orient":"left","values":[0,0.1,0.2,0.3,0.4,0.5,0.6,0.7,0.8,0.9,1],"format":".2f","ticks":false,"labels":true,"labelFontSize":5,"labelPadding":3,"labelColor":"#444","title":"Estimated Shaft Power by current","titleFontSize":5,"titleFontWeight":"normal","titlePadding":3,"titleColor":"#444"}}
        }},
       {"data":{"values":[{"x":0.6,"y":0.61},{"x":0.62,"y":0.6},{"x":0.65,"y":0.66},{"x":0.68,"y":0.7},{"x":0.7,"y":0.715},{"x":0.72,"y":0.74},{"x":0.75,"y":0.765},{"x":0.78,"y":0.8},{"x":0.8,"y":0.815},{"x":0.85,"y":0.87}]},
        "mark":{"type":"point","filled":true,"size":3,"color":"#999","opacity":1,"strokeWidth":0}},
       {"data":{"values":[{"t":"Corr. Coeff. = 0.999953","x":0.05,"y":0.95}]},
        "mark":{"type":"text","align":"left","baseline":"middle","fontSize":3.5,"color":"#333"},
        "encoding":{"text":{"field":"t"}}},
       {"data":{"values":[{"t":"平水中","x":0.41,"y":0.17}]},
        "mark":{"type":"text","align":"left","baseline":"middle","font":"Noto Sans CJK JP","fontSize":16,"color":"#222"},
        "encoding":{"text":{"field":"t"}}}
      ]
     },
     {
      "width":92,"height":100,
      "resolve":{"axis":{"x":"independent","y":"independent"}},
      "encoding":{
       "x":{"field":"x","type":"quantitative","scale":{"domain":[-0.02,0.164],"nice":false,"zero":false},"axis":null},
       "y":{"field":"y","type":"quantitative","scale":{"domain":[-0.02,0.18],"nice":false,"zero":false},"axis":null}
      },
      "layer":[
       {"data":{"values":[{"x":-0.02,"y":-0.02},{"x":0.164,"y":0.164}]},
        "mark":{"type":"line","color":"#000","strokeWidth":1.2},
        "encoding":{
         "x":{"field":"x","type":"quantitative","scale":{"domain":[-0.02,0.164],"nice":false,"zero":false},"axis":{"orient":"bottom","values":[0,0.05,0.1,0.15],"format":".2f","ticks":false,"labels":true,"labelFontSize":5,"labelPadding":4,"labelColor":"#444","title":"Simulated added Shaft Power by wave","titleFontSize":5,"titleFontWeight":"normal","titlePadding":3,"titleColor":"#444"}},
         "y":{"field":"y","type":"quantitative","scale":{"domain":[-0.02,0.18],"nice":false,"zero":false},"axis":{"orient":"left","values":[-0.02,0,0.02,0.04,0.06,0.08,0.1,0.12,0.14,0.16,0.18],"format":".2f","ticks":false,"labels":true,"labelFontSize":5,"labelPadding":4,"labelColor":"#444","title":"Estimated added Shaft Power by wave","titleFontSize":5,"titleFontWeight":"normal","titlePadding":3,"titleColor":"#444"}}
        }},
       {"data":{"values":[
         {"x":0.002,"y":0.001},{"x":0.004,"y":0.006},{"x":0.006,"y":0.004},{"x":0.008,"y":0.01},{"x":0.01,"y":0.008},{"x":0.012,"y":0.015},{"x":0.014,"y":0.012},{"x":0.016,"y":0.02},{"x":0.018,"y":0.017},{"x":0.02,"y":0.025},{"x":0.022,"y":0.022},{"x":0.025,"y":0.03},{"x":0.028,"y":0.027},{"x":0.03,"y":0.036},{"x":0.033,"y":0.033},{"x":0.035,"y":0.042},{"x":0.038,"y":0.04},{"x":0.04,"y":0.048},{"x":0.043,"y":0.046},{"x":0.045,"y":0.054},{"x":0.048,"y":0.052},{"x":0.05,"y":0.06},{"x":0.053,"y":0.058},{"x":0.055,"y":0.066},{"x":0.058,"y":0.064},{"x":0.06,"y":0.072},{"x":0.065,"y":0.077},{"x":0.07,"y":0.084},{"x":0.075,"y":0.088},{"x":0.08,"y":0.096},{"x":0.085,"y":0.1},{"x":0.09,"y":0.108},{"x":0.095,"y":0.112},{"x":0.1,"y":0.12},{"x":0.105,"y":0.125},{"x":0.11,"y":0.13},{"x":0.12,"y":0.14},{"x":0.109,"y":0.057},{"x":0.154,"y":0.162},{"x":0.06,"y":0.085},{"x":0.04,"y":0.058},{"x":0.07,"y":0.09}
        ]},
        "mark":{"type":"point","filled":true,"size":3,"color":"#999","opacity":1,"strokeWidth":0}},
       {"data":{"values":[{"t":"Corr. Coeff. = 0.978765","x":-0.005,"y":0.17}]},
        "mark":{"type":"text","align":"left","baseline":"middle","fontSize":3.5,"color":"#333"},
        "encoding":{"text":{"field":"t"}}},
       {"data":{"values":[{"t":"波増加","x":0.06,"y":0.0077}]},
        "mark":{"type":"text","align":"left","baseline":"middle","font":"Noto Sans CJK JP","fontSize":16,"color":"#222"},
        "encoding":{"text":{"field":"t"}}}
      ]
     }
    ]
   }
  ]
 }
]
}
